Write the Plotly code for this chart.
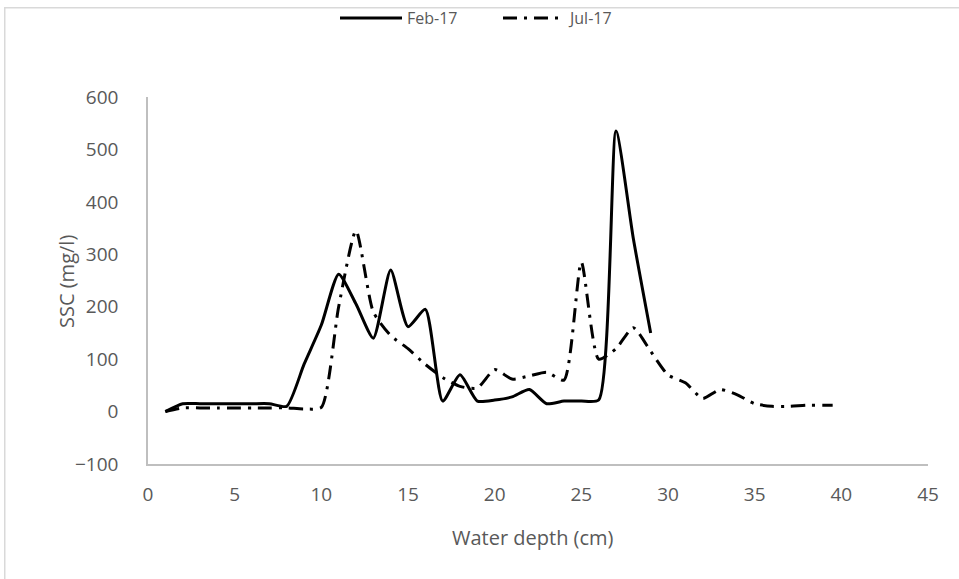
import plotly.graph_objects as go

feb_x = [1, 2, 3, 4, 5, 6, 7, 8, 9, 10, 11, 12, 13, 14, 15, 16, 17, 18, 19, 20, 21, 22, 23, 24, 25, 26, 27, 28, 29]
feb_y = [0, 15, 15, 15, 15, 15, 15, 10, 90, 165, 262, 205, 140, 270, 162, 195, 20, 70, 20, 22, 28, 42, 15, 20, 20, 22, 535, 330, 150]

jul_x = [1, 2, 3, 4, 5, 6, 7, 8, 9, 10, 11, 12, 13, 14, 15, 16, 17, 18, 19, 20, 21, 22, 23, 24, 25, 26, 27, 28, 29, 30, 31, 32, 33, 34, 35, 36, 37, 38, 39, 39.5]
jul_y = [0, 7, 7, 7, 7, 7, 7, 7, 5, 8, 200, 345, 190, 145, 120, 90, 65, 48, 45, 80, 62, 68, 75, 60, 285, 100, 120, 160, 115, 70, 55, 25, 42, 32, 15, 10, 10, 12, 12, 12]

x_ticks = [0, 5, 10, 15, 20, 25, 30, 35, 40, 45]
y_ticks = [-100, 0, 100, 200, 300, 400, 500, 600]

TXT = "#595959"
FONT = "Open Sans"

fig = go.Figure()
fig.add_trace(go.Scatter(x=feb_x, y=feb_y, name="Feb-17", mode="lines",
                         line=dict(color="black", width=3, shape="spline", smoothing=0.6)))
fig.add_trace(go.Scatter(x=jul_x, y=jul_y, name="Jul-17", mode="lines",
                         line=dict(color="black", width=3, shape="spline", smoothing=0.6,
                                   dash="14px,7px,3px,7px")))

L, R, T, B = 148, 31, 97, 115
W, H = 959, 579
pw, ph = W - L - R, H - T - B

def px_x(p):
    return (p - L) / pw

def px_y(p):
    return (H - B - p) / ph

fig.update_layout(
    width=W, height=H,
    margin=dict(l=L, r=R, t=T, b=B, autoexpand=False),
    paper_bgcolor="white", plot_bgcolor="white",
    font=dict(family=FONT, size=19, color=TXT),
    showlegend=True,
    legend=dict(orientation="h", x=335 / W, xanchor="left", xref="container",
                y=1 - 18 / H, yanchor="middle", yref="container",
                bgcolor="rgba(0,0,0,0)", entrywidth=86, entrywidthmode="pixels",
                font=dict(size=16, color=TXT), itemwidth=62),
    xaxis=dict(range=[0, 45], tickvals=x_ticks, showgrid=False, zeroline=False,
               showline=True, linecolor="#bfbfbf", linewidth=1.5, ticks="",
               automargin=False, ticklabelstandoff=12),
    yaxis=dict(range=[-100, 600], tickvals=y_ticks, showgrid=False, zeroline=False,
               showline=True, linecolor="#bfbfbf", linewidth=1.5, ticks="",
               automargin=False, ticklabelstandoff=24),
    annotations=[
        dict(text="Water depth (cm)", xref="paper", yref="paper", x=px_x(533), y=px_y(537),
             xanchor="center", yanchor="middle", showarrow=False, font=dict(size=20, color=TXT)),
        dict(text="SSC (mg/l)", xref="paper", yref="paper", x=px_x(66), y=px_y(282),
             xanchor="center", yanchor="middle", showarrow=False, textangle=-90,
             font=dict(size=20, color=TXT)),
        # chart frame (top and left edges visible, like the reference)
        dict(text=" ", xref="paper", yref="paper", x=px_x(4), y=px_y(7),
             xanchor="left", yanchor="top", showarrow=False,
             width=1000, height=620, borderpad=0, borderwidth=1.5,
             bordercolor="#d9d9d9", bgcolor="rgba(0,0,0,0)", captureevents=False),
    ],
)

fig.write_html("out.html", config={"displayModeBar": False},
               post_script="document.body.style.margin='0';")
